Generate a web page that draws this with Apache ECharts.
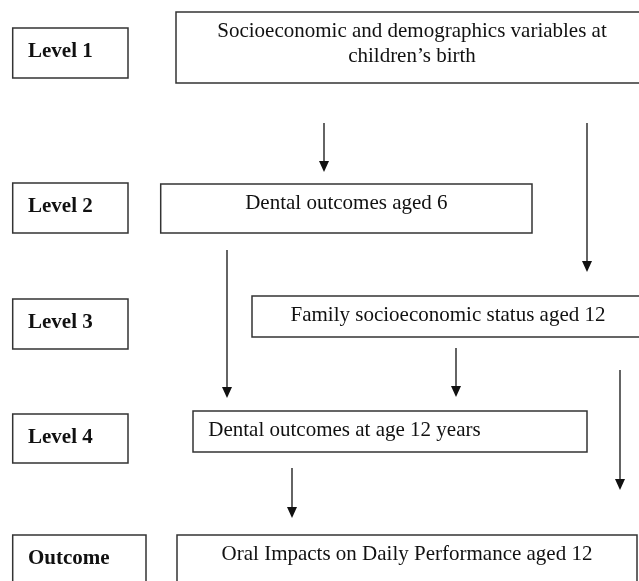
<!DOCTYPE html>
<html><head><meta charset="utf-8">
<script src="https://cdn.jsdelivr.net/npm/echarts@6/dist/echarts.min.js"></script>
<style>html,body{margin:0;padding:0;background:#fff}#c{width:639px;height:581px}</style>
</head><body><div id="c"></div>
<script>
// Level label boxes (diagram units: x 0..639, y 0..581 top-down)
const levelLabels = ['Level 1', 'Level 2', 'Level 3', 'Level 4', 'Outcome'];
const levelX0 = [12.7, 12.7, 12.7, 12.7, 12.7];
const levelX1 = [128, 128, 128, 128, 146];
const levelY0 = [28, 183, 299, 414, 535];
const levelY1 = [78, 233, 349, 463, 600];

// Content boxes
const nodeLabels = [
  'Socioeconomic and demographics variables at\nchildren\u2019s birth',
  'Dental outcomes aged 6',
  'Family socioeconomic status aged 12',
  'Dental outcomes at age 12 years',
  'Oral Impacts on Daily Performance aged 12'
];
const nodeX0 = [176, 160.7, 252, 193, 177];
const nodeX1 = [648, 532, 644, 587, 637];
const nodeY0 = [12, 184, 296, 411, 535];
const nodeY1 = [83, 233, 337, 452, 600];
const nodeAlign = ['center', 'center', 'center', 'left', 'center'];

// Arrows (vertical)
const arrowX = [324, 587, 227, 456, 620, 292];
const arrowFrom = [123, 123, 250, 348, 370, 468];
const arrowTo = [172, 272, 398, 397, 490, 518];

const FONT = '"Liberation Serif", "Times New Roman", serif';

function boxData(x0, x1, y0, y1) {
  return x0.map((v, i) => [v, y0[i], x1[i], y1[i]]);
}

function boxRenderer(labels, aligns, bold, textOffset) {
  return function (params, api) {
    const i = params.dataIndex;
    const p0 = api.coord([api.value(0), api.value(1)]);
    const p1 = api.coord([api.value(2), api.value(3)]);
    const align = aligns[i];
    const tx = align === 'left' ? p0[0] + 15.3 : (p0[0] + p1[0]) / 2;
    return {
      type: 'group',
      children: [
        {
          type: 'rect',
          shape: { x: p0[0], y: p0[1], width: p1[0] - p0[0], height: p1[1] - p0[1] },
          style: { fill: '#fff', stroke: '#333', lineWidth: 1.5 }
        },
        {
          type: 'text',
          style: {
            text: labels[i],
            x: tx,
            y: p0[1] + textOffset,
            align: align,
            verticalAlign: 'top',
            lineHeight: 25,
            fontSize: 21,
            fontFamily: FONT,
            fontWeight: bold ? 'bold' : 'normal',
            fill: '#111'
          }
        }
      ]
    };
  };
}

const chart = echarts.init(document.getElementById('c'), null, { renderer: 'canvas' });
chart.setOption({
  animation: false,
  backgroundColor: '#fff',
  grid: { left: 0, right: 0, top: 0, bottom: 0 },
  xAxis: { type: 'value', min: 0, max: 639, show: false },
  yAxis: { type: 'value', min: 0, max: 581, inverse: true, show: false },
  series: [
    {
      type: 'custom',
      clip: true,
      data: boxData(levelX0, levelX1, levelY0, levelY1),
      renderItem: boxRenderer(levelLabels, levelLabels.map(() => 'left'), true, 11)
    },
    {
      type: 'custom',
      clip: true,
      data: boxData(nodeX0, nodeX1, nodeY0, nodeY1),
      renderItem: boxRenderer(nodeLabels, nodeAlign, false, 7.3)
    },
    {
      type: 'custom',
      clip: true,
      data: arrowX.map((x, i) => [x, arrowFrom[i], arrowTo[i]]),
      renderItem: function (params, api) {
        const a = api.coord([api.value(0), api.value(1)]);
        const b = api.coord([api.value(0), api.value(2)]);
        const hw = 5, hh = 11;
        return {
          type: 'group',
          children: [
            {
              type: 'line',
              shape: { x1: a[0], y1: a[1], x2: b[0], y2: b[1] - hh + 1 },
              style: { stroke: '#111', lineWidth: 1.3 }
            },
            {
              type: 'polygon',
              shape: { points: [[b[0] - hw, b[1] - hh], [b[0] + hw, b[1] - hh], [b[0], b[1]]] },
              style: { fill: '#111' }
            }
          ]
        };
      }
    }
  ]
});
</script>
</body></html>
